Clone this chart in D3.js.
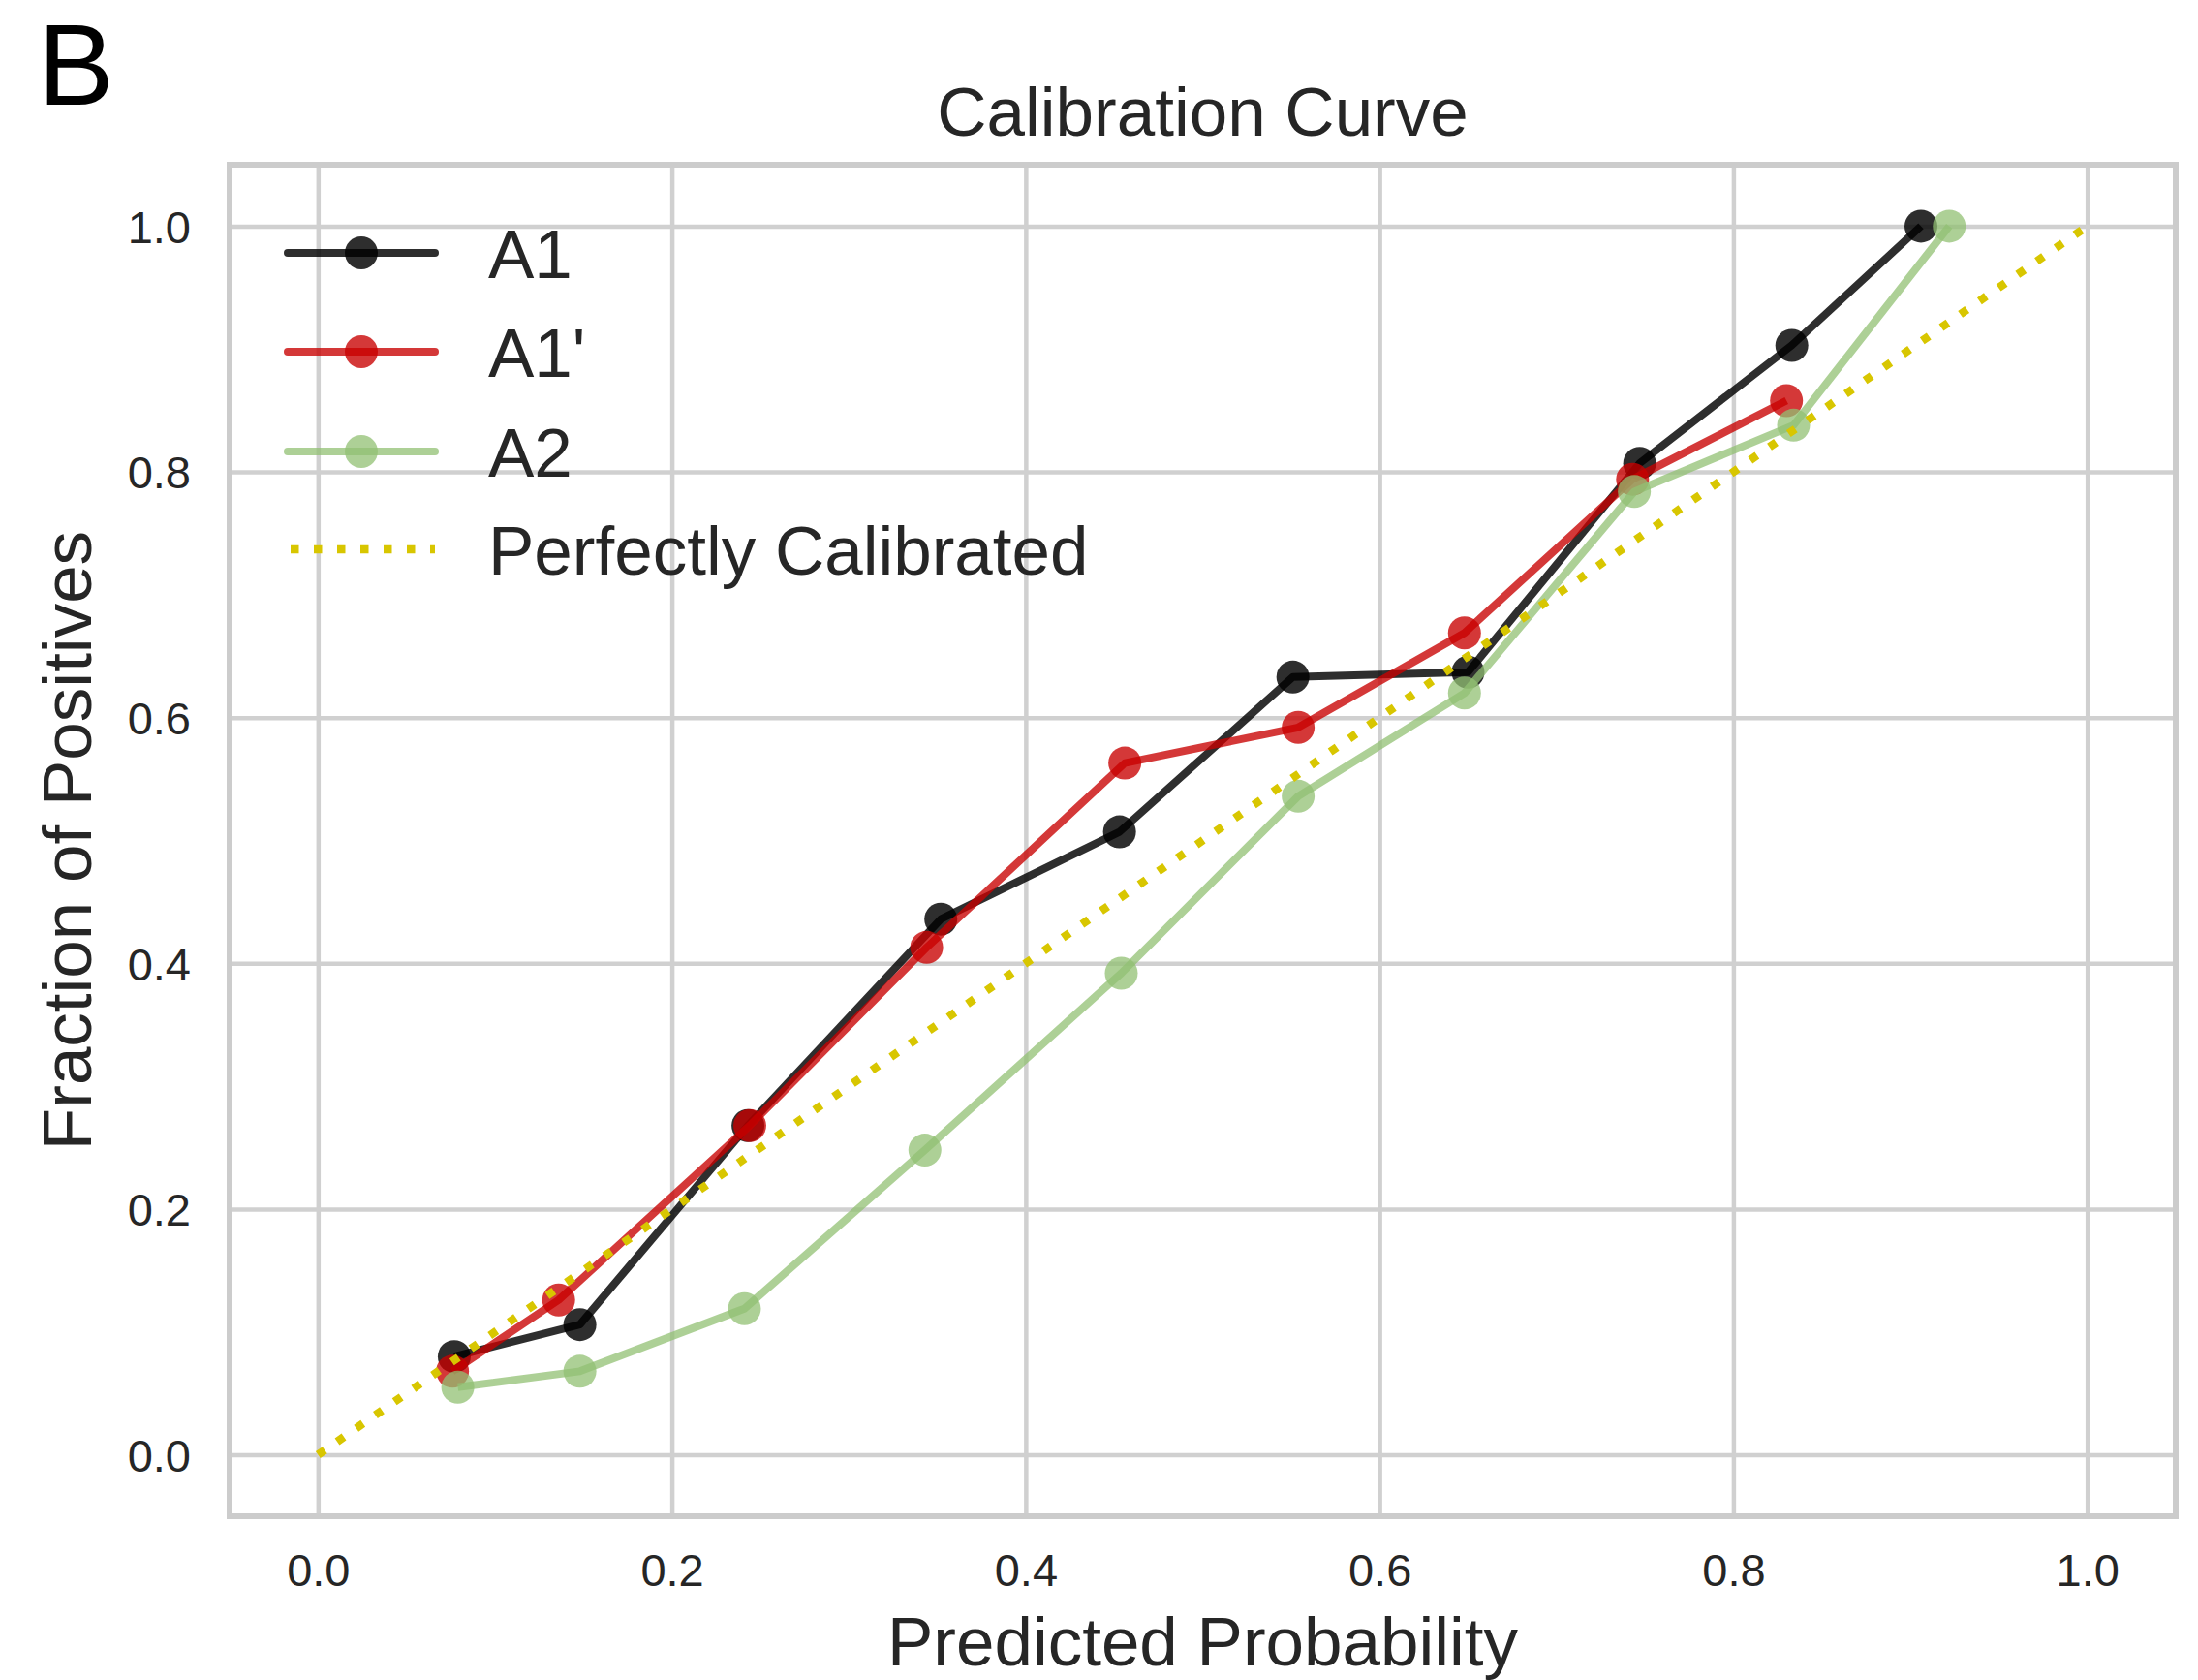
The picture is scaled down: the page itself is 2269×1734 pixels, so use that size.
<!DOCTYPE html>
<html>
<head>
<meta charset="utf-8">
<script src="https://cdn.jsdelivr.net/npm/d3@7"></script>
<style>
  body { margin: 0; background: #fff; }
  text { font-family: "Liberation Sans", Arial, sans-serif; fill: #262626; }
</style>
</head>
<body>
<div id="chart"></div>
<script>
// values
const a1X = [0.077, 0.148, 0.243, 0.352, 0.453, 0.551, 0.650, 0.747, 0.833, 0.906];
const a1Y = [0.080, 0.106, 0.268, 0.436, 0.507, 0.633, 0.637, 0.807, 0.903, 1.0];
const a1pX = [0.076, 0.136, 0.244, 0.344, 0.456, 0.554, 0.648, 0.743, 0.830];
const a1pY = [0.068, 0.126, 0.268, 0.413, 0.563, 0.592, 0.669, 0.794, 0.858];
const a2X = [0.079, 0.148, 0.241, 0.343, 0.454, 0.554, 0.648, 0.744, 0.834, 0.922];
const a2Y = [0.055, 0.068, 0.119, 0.248, 0.392, 0.536, 0.620, 0.784, 0.838, 1.0];
const perfectX = [0, 1];
const perfectY = [0, 1];
const tickValues = [0, 0.2, 0.4, 0.6, 0.8, 1.0];

const seriesNames = ["A1", "A1'", "A2"];
const seriesColors = ["#000000", "#c80000", "#92c073"];
const seriesOpacity = [0.82, 0.78, 0.75];

const series = [
    { name: seriesNames[0], x: a1X, y: a1Y },
    { name: seriesNames[1], x: a1pX, y: a1pY },
    { name: seriesNames[2], x: a2X, y: a2Y }
];

const width = 2269;
const height = 1734;
const plotLeft = 237, plotRight = 2246, plotTop = 170, plotBottom = 1565;

const svg = d3.select('#chart')
    .append('svg')
        .attr('width', width)
        .attr('height', height)
        .attr('viewBox', [0, 0, width, height]);

svg.append('rect')
    .attr('width', width)
    .attr('height', height)
    .attr('fill', '#fff');

const x = d3.scaleLinear().domain([-0.05, 1.05]).range([plotLeft, plotRight]);
const y = d3.scaleLinear().domain([-0.05, 1.05]).range([plotBottom, plotTop]);

// grid + tick labels
const xAxis = svg.append('g')
    .attr('transform', `translate(0,${plotBottom})`)
    .call(d3.axisBottom(x)
        .tickValues(tickValues)
        .tickFormat(d3.format('.1f'))
        .tickSizeInner(-(plotBottom - plotTop))
        .tickSizeOuter(0));
xAxis.select('.domain').remove();
xAxis.selectAll('line').attr('stroke', '#d0d0d0').attr('stroke-width', 4.5);
xAxis.selectAll('text')
    .attr('y', 72)
    .attr('dy', 0)
    .attr('font-size', 47)
    .attr('fill', '#262626');

const yAxis = svg.append('g')
    .attr('transform', `translate(${plotLeft},0)`)
    .call(d3.axisLeft(y)
        .tickValues(tickValues)
        .tickFormat(d3.format('.1f'))
        .tickSizeInner(-(plotRight - plotLeft))
        .tickSizeOuter(0));
yAxis.select('.domain').remove();
yAxis.selectAll('line').attr('stroke', '#d0d0d0').attr('stroke-width', 4.5);
yAxis.selectAll('text')
    .attr('x', -40)
    .attr('dy', '0.36em')
    .attr('font-size', 47)
    .attr('fill', '#262626');

// frame
svg.append('rect')
    .attr('x', plotLeft)
    .attr('y', plotTop)
    .attr('width', plotRight - plotLeft)
    .attr('height', plotBottom - plotTop)
    .attr('fill', 'none')
    .attr('stroke', '#cccccc')
    .attr('stroke-width', 6);

const line = d3.line()
    .x(d => x(d[0]))
    .y(d => y(d[1]));

const plotArea = svg.append('g');

series.forEach((s, i) => {
    const pts = s.x.map((v, j) => [v, s.y[j]]);
    const g = plotArea.append('g');
    g.append('path')
        .datum(pts)
        .attr('d', line)
        .attr('fill', 'none')
        .attr('stroke', seriesColors[i])
        .attr('stroke-opacity', seriesOpacity[i])
        .attr('stroke-width', 8)
        .attr('stroke-linejoin', 'round');
    g.selectAll('circle')
        .data(pts)
        .join('circle')
            .attr('cx', d => x(d[0]))
            .attr('cy', d => y(d[1]))
            .attr('r', 17)
            .attr('fill', seriesColors[i])
            .attr('fill-opacity', seriesOpacity[i]);
});

plotArea.append('path')
    .datum(perfectX.map((v, j) => [v, perfectY[j]]))
    .attr('d', line)
    .attr('fill', 'none')
    .attr('stroke', '#d8c600')
    .attr('stroke-width', 8.5)
    .attr('stroke-dasharray', '8.5 15.5');

// legend
const legendRowY = [261, 363, 466, 567];
const legendLineX1 = 297, legendLineX2 = 449, legendTextX = 504;
const legend = svg.append('g');

series.forEach((s, i) => {
    legend.append('line')
        .attr('x1', legendLineX1).attr('x2', legendLineX2)
        .attr('y1', legendRowY[i]).attr('y2', legendRowY[i])
        .attr('stroke', seriesColors[i])
        .attr('stroke-opacity', seriesOpacity[i])
        .attr('stroke-width', 8)
        .attr('stroke-linecap', 'round');
    legend.append('circle')
        .attr('cx', (legendLineX1 + legendLineX2) / 2)
        .attr('cy', legendRowY[i])
        .attr('r', 17)
        .attr('fill', seriesColors[i])
        .attr('fill-opacity', seriesOpacity[i]);
    legend.append('text')
        .attr('x', legendTextX)
        .attr('y', legendRowY[i])
        .attr('dy', '0.36em')
        .attr('font-size', 71)
        .text(s.name);
});

legend.append('line')
    .attr('x1', 300).attr('x2', legendLineX2)
    .attr('y1', legendRowY[3]).attr('y2', legendRowY[3])
    .attr('stroke', '#d8c600')
    .attr('stroke-width', 8.5)
    .attr('stroke-dasharray', '8.5 15.5');
legend.append('text')
    .attr('x', legendTextX)
    .attr('y', legendRowY[3])
    .attr('dy', '0.36em')
    .attr('font-size', 71)
    .text('Perfectly Calibrated');

// titles
svg.append('text')
    .attr('x', (plotLeft + plotRight) / 2)
    .attr('y', 140)
    .attr('text-anchor', 'middle')
    .attr('font-size', 71)
    .text('Calibration Curve');

svg.append('text')
    .attr('x', (plotLeft + plotRight) / 2)
    .attr('y', 1719)
    .attr('text-anchor', 'middle')
    .attr('font-size', 71)
    .text('Predicted Probability');

svg.append('text')
    .attr('transform', `translate(94,${(plotTop + plotBottom) / 2}) rotate(-90)`)
    .attr('text-anchor', 'middle')
    .attr('font-size', 71)
    .text('Fraction of Positives');

svg.append('text')
    .attr('x', 39)
    .attr('y', 108)
    .attr('font-size', 118)
    .style('fill', '#000')
    .text('B');
</script>
</body>
</html>
